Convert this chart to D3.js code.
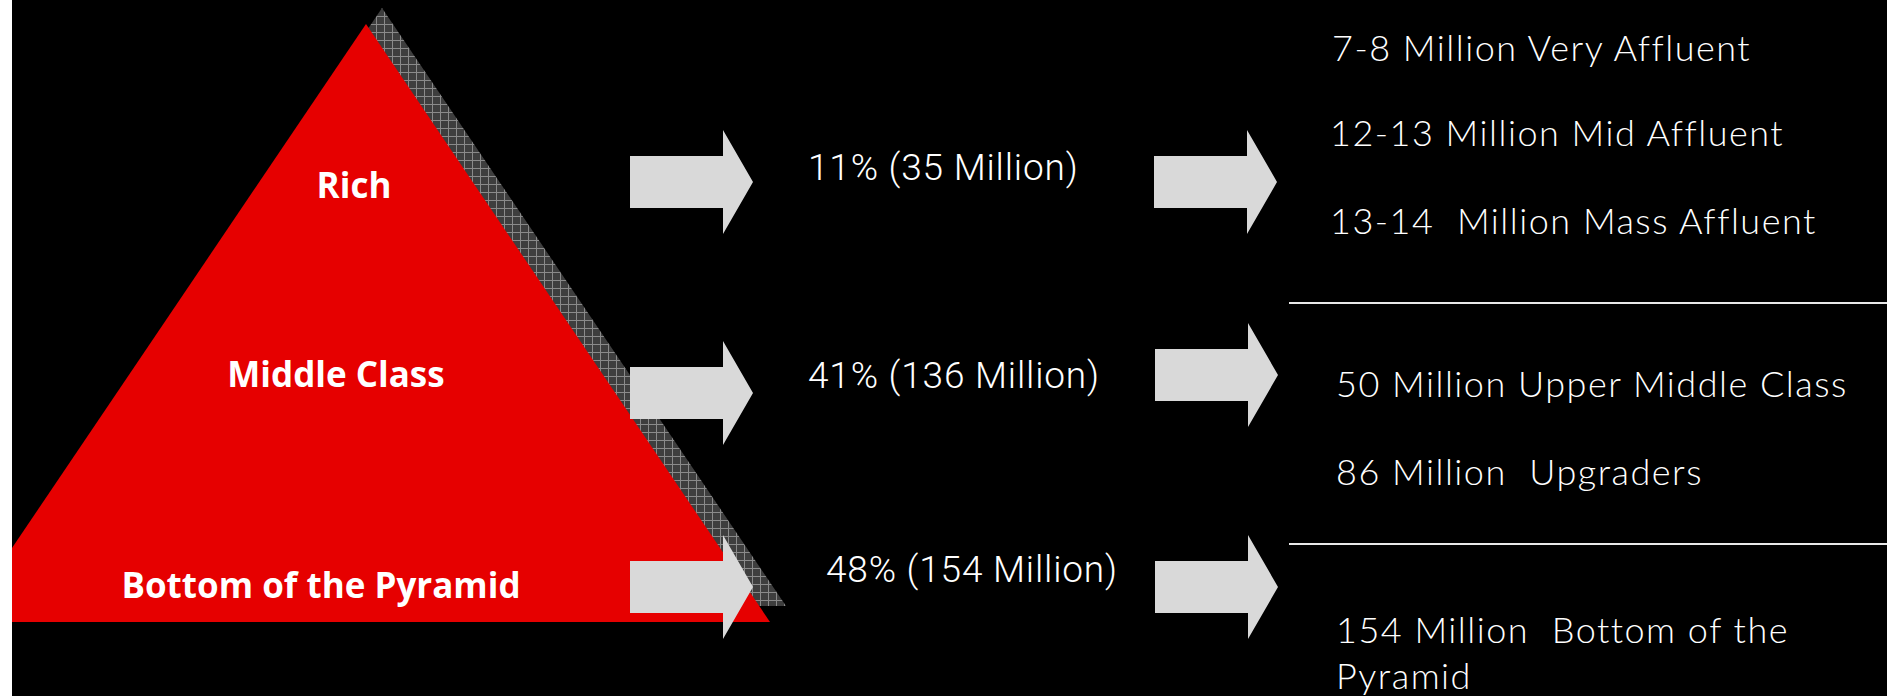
<!DOCTYPE html>
<meta charset="utf-8" />
<script src="https://d3js.org/d3.v7.min.js"></script>
<style>
    body { margin: 0; background: #000; }
    text { white-space: pre; }
</style>
<div id="my_dataviz"></div>

<script>
    // data
    const tiers = ['Rich', 'Middle Class', 'Bottom of the Pyramid']
    const sharePct = [11, 41, 48]
    const shareMillions = [35, 136, 154]
    const segmentLines = [
        ['7-8 Million Very Affluent', '12-13 Million Mid Affluent', '13-14  Million Mass Affluent'],
        ['50 Million Upper Middle Class', '86 Million  Upgraders'],
        ['154 Million  Bottom of the', 'Pyramid']
    ]

    // layout (per row)
    const width = 1887, height = 696
    const labelX = [354, 336, 321], labelY = [198, 387, 598]
    const shareX = [808, 808, 826], shareY = [180, 388, 582]
    const arrow1Y = [182, 393, 587], arrow2Y = [182, 375, 587]
    const segX = [[1332, 1330, 1330], [1336, 1336], [1336, 1336]]
    const segY = [[61, 146, 234], [397, 485], [643, 689]]
    const dividerY = [303, 544]

    const svg = d3.select('#my_dataviz')
        .append('svg')
        .attr('width', width)
        .attr('height', height)
        .style('display', 'block')

    svg.append('rect').attr('width', width).attr('height', height).attr('fill', '#000')

    // grid pattern for the shadow
    const defs = svg.append('defs')
    const pat = defs.append('pattern')
        .attr('id', 'grid')
        .attr('width', 8).attr('height', 8)
        .attr('patternUnits', 'userSpaceOnUse')
    pat.append('rect').attr('width', 8).attr('height', 8).attr('fill', '#3e3e3e')
    pat.append('path').attr('d', 'M0,0.5H8M0.5,0V8')
        .attr('stroke', '#8a8a8a').attr('stroke-width', 1)

    // pyramid: fraction of base width -> x, fraction of height -> y
    const px = d3.scaleLinear().domain([0, 1]).range([-38, 770])
    const py = d3.scaleLinear().domain([0, 1]).range([24, 622])
    const tri = [[0.5, 0], [1, 1], [0, 1]]
    const triLine = d3.line().x((d) => px(d[0])).y((d) => py(d[1])).curve(d3.curveLinearClosed)

    svg.append('path')
        .attr('d', triLine(tri))
        .attr('transform', 'translate(16,-16)')
        .attr('fill', 'url(#grid)')
    svg.append('path')
        .attr('d', triLine(tri))
        .attr('fill', '#e60000')

    svg.selectAll('.tier')
        .data(tiers)
        .join('text')
        .attr('class', 'tier')
        .attr('x', (d, i) => labelX[i])
        .attr('y', (d, i) => labelY[i])
        .attr('text-anchor', 'middle')
        .attr('font-family', 'Open Sans')
        .attr('font-weight', 700)
        .attr('font-size', '35px')
        .attr('fill', '#fff')
        .text((d) => d)

    // block arrows
    const arrow = (x0, cy) => {
        const bw = 93, hw = 30, bh = 26, hh = 52
        return `M${x0},${cy - bh}H${x0 + bw}V${cy - hh}L${x0 + bw + hw},${cy}L${x0 + bw},${cy + hh}V${cy + bh}H${x0}Z`
    }
    svg.selectAll('.arrow1')
        .data(arrow1Y)
        .join('path')
        .attr('class', 'arrow1')
        .attr('d', (d) => arrow(630, d))
        .attr('fill', '#d9d9d9')
    svg.selectAll('.arrow2')
        .data(arrow2Y)
        .join('path')
        .attr('class', 'arrow2')
        .attr('d', (d, i) => arrow(i === 0 ? 1154 : 1155, d))
        .attr('fill', '#d9d9d9')

    // share texts
    svg.selectAll('.share')
        .data(sharePct)
        .join('text')
        .attr('class', 'share')
        .attr('x', (d, i) => shareX[i])
        .attr('y', (d, i) => shareY[i])
        .attr('font-family', 'Roboto')
        .attr('font-weight', 300)
        .attr('font-size', '37px')
        .attr('letter-spacing', '0.8px')
        .attr('fill', '#fff')
        .text((d, i) => `${d}% (${shareMillions[i]} Million)`)

    // segment texts
    segmentLines.forEach((lines, g) => {
        svg.selectAll('.seg' + g)
            .data(lines)
            .join('text')
            .attr('class', 'seg' + g)
            .attr('x', (d, i) => segX[g][i])
            .attr('y', (d, i) => segY[g][i])
            .attr('font-family', 'Lato')
            .attr('font-weight', 300)
            .attr('font-size', '36px')
            .attr('letter-spacing', '1.5px')
            .attr('fill', '#fff')
            .text((d) => d)
    })

    svg.selectAll('.divider')
        .data(dividerY)
        .join('line')
        .attr('class', 'divider')
        .attr('x1', 1289).attr('x2', width)
        .attr('y1', (d) => d).attr('y2', (d) => d)
        .attr('stroke', '#e8e8e8')
        .attr('stroke-width', 2)

    // white strip on the left edge
    svg.append('rect').attr('width', 12).attr('height', height).attr('fill', '#fff')
</script>
